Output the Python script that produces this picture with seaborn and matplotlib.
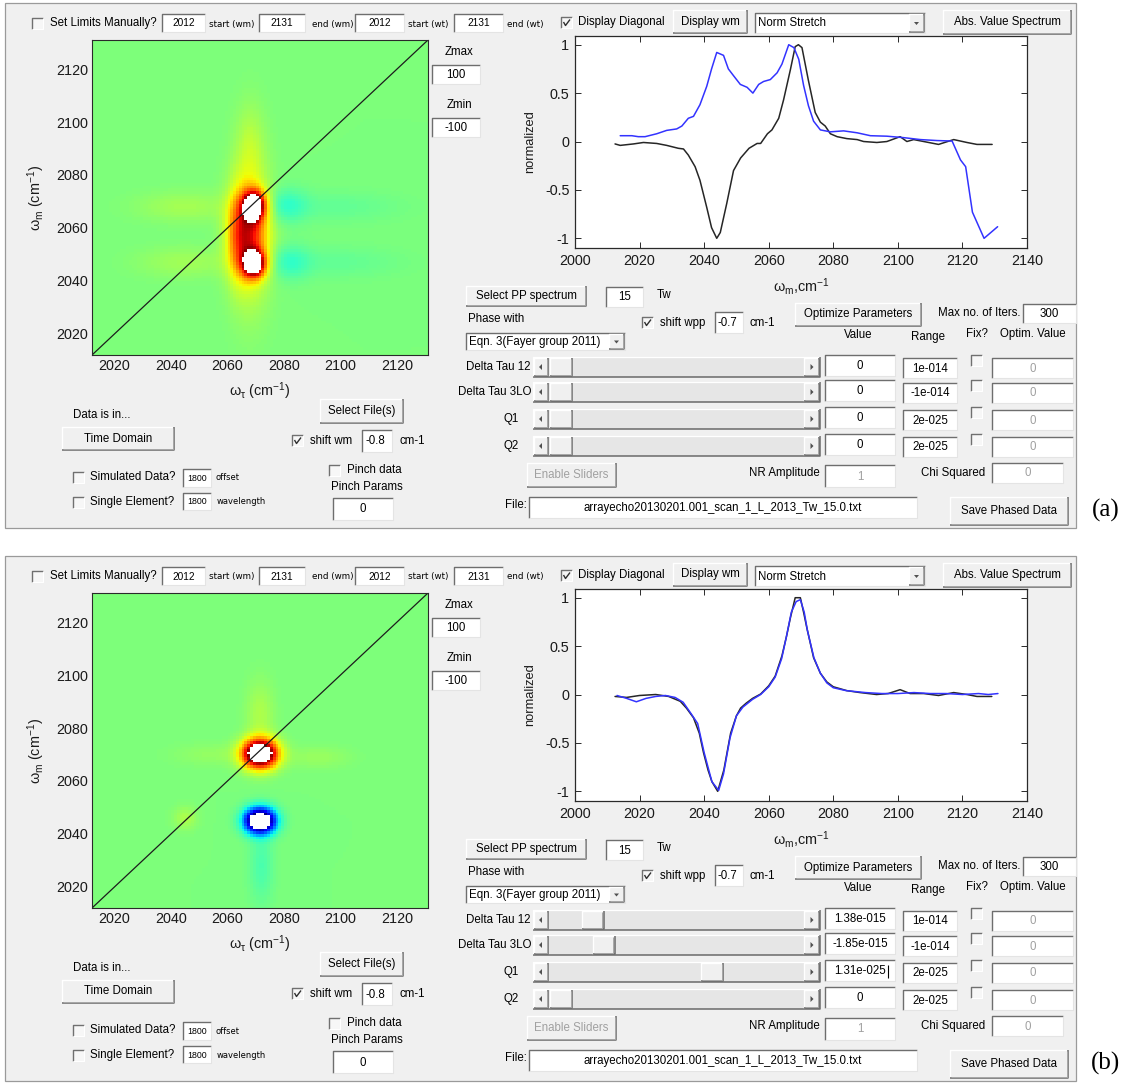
import numpy as np
import pandas as pd
import matplotlib
matplotlib.use("Agg")
import matplotlib.pyplot as plt
import seaborn as sns
from matplotlib.patches import Rectangle, Polygon
from matplotlib.lines import Line2D

# ---------------- spectra: frequency (cm-1) and normalized signal ----------------
PROJ_A_X = [2012.4, 2014, 2018.1, 2021.2, 2025.3, 2028.4, 2032, 2033.6, 2035.1, 2037.2,
            2038.7, 2040.8, 2042.3, 2043.9, 2045, 2047, 2049.1, 2051.3, 2053.9, 2056.4,
            2057.5, 2059.6, 2061, 2063.1, 2064.6, 2066.7, 2068.2, 2069.2, 2070.3, 2072.3,
            2074.4, 2076, 2077.5, 2079.1, 2081.2, 2084.2, 2087.4, 2089.4, 2093.5, 2096.6,
            2100.7, 2102.8, 2104.9, 2108, 2112.6, 2117.3, 2121.4, 2124.5, 2129.2]
PROJ_A_Y = [-0.025, -0.04, -0.025, -0.01, -0.02, -0.04, -0.07, -0.077, -0.14, -0.26,
            -0.40, -0.68, -0.89, -1.0, -0.94, -0.64, -0.30, -0.17, -0.07, -0.02,
            -0.02, 0.08, 0.12, 0.24, 0.43, 0.74, 0.98, 1.0, 0.97, 0.63,
            0.30, 0.20, 0.16, 0.08, 0.05, 0.03, 0.02, 0.0, -0.01, 0.0,
            0.05, 0.0, 0.02, 0.0, -0.03, 0.02, -0.01, -0.03, -0.03]
PP_A_X = [2014, 2017.6, 2019.6, 2021.7, 2025.3, 2028.4, 2031.5, 2033.1, 2035.1, 2036.7,
          2038.7, 2040.8, 2042.3, 2043.9, 2046, 2047.5, 2049.1, 2051.2, 2053.3, 2055.1,
          2056.9, 2058.4, 2060.5, 2062.6, 2064.1, 2066.2, 2067.8, 2069.3, 2070.8, 2072.3,
          2073.9, 2076, 2079.1, 2083.2, 2087.4, 2091.5, 2096.6, 2101.8, 2107, 2112.1,
          2116.8, 2119.4, 2121, 2123.1, 2126.7, 2130.9]
PP_A_Y = [0.06, 0.06, 0.05, 0.05, 0.08, 0.115, 0.13, 0.16, 0.24, 0.26,
          0.38, 0.57, 0.75, 0.92, 0.89, 0.75, 0.68, 0.59, 0.56, 0.50,
          0.59, 0.62, 0.64, 0.71, 0.80, 1.0, 0.97, 0.85, 0.58, 0.37,
          0.21, 0.12, 0.10, 0.11, 0.09, 0.06, 0.055, 0.04, 0.02, 0.01,
          0.005, -0.19, -0.26, -0.73, -1.0, -0.88]

PROJ_B_X = [2012.4, 2016, 2020, 2025, 2029, 2032.6, 2034.5, 2036.7, 2038.5, 2039.8,
            2041.2, 2042.4, 2044.2, 2046.1, 2048.2, 2050, 2051.3, 2053, 2055, 2057.5,
            2060, 2062, 2064.1, 2065.5, 2066.7, 2068.2, 2069.8, 2070.8, 2071.8, 2073.9,
            2076, 2078, 2080, 2084.2, 2088.3, 2093.4, 2097, 2100.7, 2103.8, 2108,
            2112.6, 2117.3, 2121.4, 2124.5, 2129.1]
PROJ_B_Y = [-0.02, -0.03, -0.01, 0.0, -0.02, -0.07, -0.14, -0.24, -0.4, -0.6,
            -0.78, -0.9, -1.0, -0.78, -0.4, -0.22, -0.14, -0.09, -0.04, 0.005,
            0.09, 0.19, 0.40, 0.6, 0.79, 1.0, 1.0, 0.85, 0.69, 0.38,
            0.22, 0.13, 0.08, 0.04, 0.02, 0.0, 0.01, 0.05, 0.01, 0.01,
            -0.01, 0.02, 0.0, -0.02, -0.02]
PP_B_X = [2013, 2016, 2019, 2022, 2025, 2028, 2031, 2033.5, 2036, 2038,
          2040, 2042.4, 2044.5, 2046, 2048, 2050, 2052, 2055, 2057.5, 2060,
          2062, 2064, 2065.5, 2067, 2068.5, 2069.8, 2071, 2072, 2074, 2076,
          2078, 2080, 2084, 2090, 2095, 2100, 2105, 2110, 2115, 2120,
          2125, 2128, 2131]
PP_B_Y = [-0.01, -0.04, -0.075, -0.04, -0.02, -0.01, -0.03, -0.08, -0.2, -0.3,
          -0.6, -0.9, -0.99, -0.82, -0.45, -0.22, -0.13, -0.05, 0.0, 0.08,
          0.18, 0.37, 0.6, 0.85, 0.96, 0.98, 0.85, 0.66, 0.38, 0.22,
          0.12, 0.07, 0.04, 0.02, 0.01, 0.01, 0.02, 0.01, 0.01, 0.0,
          0.01, 0.0, 0.01]

# ---------------- 2D spectra: peak features (w_tau, w_m, amplitude, widths) ----------------
FEAT_A_TAU = [2069.5, 2069.5, 2068.0, 2068.0, 2068.0, 2063.5, 2081.0, 2082.0, 2100.0, 2100.0, 2045.0, 2045.0]
FEAT_A_M   = [2068.5, 2046.5, 2057.0, 2058.0, 2090.0, 2058.0, 2068.5, 2047.0, 2068.0, 2047.0, 2068.0, 2047.0]
FEAT_A_AMP = [112, 108, 50, 25, 12, 28, -17, -16, -6, -6, 10, 9]
FEAT_A_STAU = [2.8, 2.8, 4.5, 5.0, 3.5, 3.0, 5.0, 5.0, 15, 15, 12, 12]
FEAT_A_SM   = [3.8, 3.4, 10, 20, 12, 12, 4.5, 4.5, 4.0, 4.0, 4.0, 4.0]

FEAT_B_TAU = [2071.5, 2071.5, 2071.5, 2072.0, 2045.0, 2055.0, 2092.0]
FEAT_B_M   = [2070.3, 2045.0, 2085.0, 2028.0, 2046.0, 2070.0, 2069.0]
FEAT_B_AMP = [150, -150, 12, -12, 12, 6, 7]
FEAT_B_STAU = [4.3, 3.8, 3.5, 3.0, 3.0, 10, 8]
FEAT_B_SM   = [3.8, 3.3, 9.0, 10, 3.0, 3.0, 3.0]

AXIS_START, AXIS_END = 2012, 2131
MAP_TICKS = [2020, 2040, 2060, 2080, 2100, 2120]
SPEC_XTICKS = [2000, 2020, 2040, 2060, 2080, 2100, 2120, 2140]
SPEC_YTICKS = [-1, -0.5, 0, 0.5, 1]
Z_MAX, Z_MIN = 100, -100

# ---------------- fit controls ----------------
PARAM_NAMES = ["Delta Tau 12", "Delta Tau 3LO", "Q1", "Q2"]
PARAM_RANGES = ["1e-014", "-1e-014", "2e-025", "2e-025"]
VALUES_A = ["0", "0", "0", "0"]
VALUES_B = ["1.38e-015", "-1.85e-015", "1.31e-025", "0"]
FILE_NAME = "arrayecho20130201.001_scan_1_L_2013_Tw_15.0.txt"

W, H = 1132, 1083
DY = 553
BG = "#f0f0f0"
GUI_FONT = 8.3

sns.set_theme(style="white")
plt.rcParams["font.family"] = ["Liberation Sans", "DejaVu Sans"]
plt.rcParams["mathtext.default"] = "regular"

fig = plt.figure(figsize=(W / 100, H / 100), dpi=100, facecolor="white")
gui = fig.add_axes([0, 0, 1, 1])
gui.set_xlim(0, W)
gui.set_ylim(H, 0)
gui.axis("off")
gui.set_zorder(0)


def rect_of(x0, y0, x1, y1):
    return [x0 / W, 1 - y1 / H, (x1 - x0) / W, (y1 - y0) / H]


def seg(xs, ys, c, lw=0.9, z=3):
    gui.add_line(Line2D(xs, ys, color=c, lw=lw, zorder=z, solid_capstyle="butt"))


def txt(x, y, s, fs=GUI_FONT, ha="left", color="black", family=None, **kw):
    if family is None:
        family = ["Liberation Sans", "DejaVu Sans"]
    gui.text(x, y, s, fontsize=fs, ha=ha, va="center", color=color, family=family, zorder=5, **kw)


def edit(x0, y0, x1, y1, s="", fs=GUI_FONT, color="black", ha="center"):
    gui.add_patch(Rectangle((x0, y0), x1 - x0, y1 - y0, facecolor="white", edgecolor="none", zorder=2))
    seg([x0, x0, x1], [y1, y0, y0], "#6e6e6e", 1.0)
    seg([x1, x1, x0], [y0, y1, y1], "#e4e4e4", 0.8)
    if s:
        xt = (x0 + x1) / 2 if ha == "center" else x0 + 3
        txt(xt, (y0 + y1) / 2 + 0.5, s, fs=fs, ha=ha, color=color)


def button(x0, y0, x1, y1, s="", fs=GUI_FONT, color="black"):
    gui.add_patch(Rectangle((x0, y0), x1 - x0, y1 - y0, facecolor=BG, edgecolor="none", zorder=2))
    seg([x0, x0, x1], [y1, y0, y0], "#ffffff", 1.0)
    seg([x1, x1, x0], [y0, y1, y1], "#6a6a6a", 1.1)
    seg([x1 - 1.5, x1 - 1.5, x0 + 1], [y0 + 1, y1 - 1.5, y1 - 1.5], "#a8a8a8", 0.7)
    if s:
        txt((x0 + x1) / 2, (y0 + y1) / 2, s, fs=fs, ha="center", color=color)


def checkbox(x0, y0, checked=False, size=11):
    x1, y1 = x0 + size, y0 + size
    gui.add_patch(Rectangle((x0, y0), size, size, facecolor="#f7f7f7", edgecolor="none", zorder=2))
    seg([x0, x0, x1], [y1, y0, y0], "#707070", 1.0)
    seg([x1, x1, x0], [y0, y1, y1], "#ffffff", 0.8)
    if checked:
        seg([x0 + 2.5, x0 + 4.5, x0 + 9], [y0 + 5, y0 + 8.5, y0 + 2.5], "#303030", 1.0, z=4)


def popup(x0, y0, x1, y1, s):
    edit(x0, y0, x1, y1)
    button(x1 - 16, y0 + 1, x1 - 1, y1 - 1)
    cx, cy = x1 - 8.5, (y0 + y1) / 2
    gui.add_patch(Polygon([[cx - 2.5, cy - 1], [cx + 2.5, cy - 1], [cx, cy + 2]],
                          closed=True, facecolor="#505050", edgecolor="none", zorder=4))
    txt(x0 + 3, (y0 + y1) / 2 + 0.5, s)


def slider(x0, y0, x1, y1, frac):
    gui.add_patch(Rectangle((x0, y0), x1 - x0, y1 - y0, facecolor="#e6e6e6", edgecolor="none", zorder=2))
    seg([x0, x0, x1], [y1, y0, y0], "#ffffff", 0.9)
    seg([x1, x1, x0], [y0, y1, y1], "#6a6a6a", 1.1)
    button(x0 + 1, y0 + 1, x0 + 15, y1 - 1)
    button(x1 - 16, y0 + 1, x1 - 1, y1 - 1)
    cy = (y0 + y1) / 2
    gui.add_patch(Polygon([[x0 + 6, cy], [x0 + 9, cy - 3], [x0 + 9, cy + 3]], closed=True,
                          facecolor="#505050", edgecolor="none", zorder=4))
    gui.add_patch(Polygon([[x1 - 6.5, cy], [x1 - 9.5, cy - 3], [x1 - 9.5, cy + 3]], closed=True,
                          facecolor="#505050", edgecolor="none", zorder=4))
    t0 = x0 + 17
    t_end = x1 - 17
    tw = 22
    tx = t0 + frac * (t_end - tw - t0)
    button(tx, y0 + 1, tx + tw, y1 - 1)


def build_map(tau_c, m_c, amp, s_tau, s_m):
    centers = np.arange(AXIS_START + 0.5, AXIS_END, 1.0)
    T, M = np.meshgrid(centers, centers)
    Z = np.zeros_like(T)
    for t, m, a, st, sm in zip(tau_c, m_c, amp, s_tau, s_m):
        Z += a * np.exp(-0.5 * ((T - t) / st) ** 2 - 0.5 * ((M - m) / sm) ** 2)
    return Z


cmap = matplotlib.colormaps["jet"].copy()
cmap.set_over("white")
cmap.set_under("white")
TICK_FS = 10.4


def draw_panel(dy, feats, proj_x, proj_y, pp_x, pp_y, values, label):
    # window frame
    gui.add_patch(Rectangle((5, 3 + dy), 1071, 525, facecolor=BG, edgecolor="#9a9a9a", lw=0.9, zorder=1))

    # --- 2D map ---
    ax = fig.add_axes(rect_of(92, 40 + dy, 428, 355 + dy))
    ax.set_zorder(2)
    Z = build_map(*feats)
    sns.heatmap(Z, ax=ax, cmap=cmap, vmin=Z_MIN, vmax=Z_MAX, cbar=False,
                xticklabels=False, yticklabels=False)
    ax.invert_yaxis()
    n = Z.shape[0]
    ax.plot([0, n], [0, n], color="#1c1c1c", lw=0.9)
    pos = [t - AXIS_START for t in MAP_TICKS]
    ax.set_xticks(pos)
    ax.set_xticklabels([str(t) for t in MAP_TICKS])
    ax.set_yticks(pos)
    ax.set_yticklabels([str(t) for t in MAP_TICKS])
    for s in ax.spines.values():
        s.set_visible(True)
        s.set_color("#2a2a2a")
        s.set_linewidth(0.8)
    ax.tick_params(direction="in", length=3.5, width=0.6, colors="#1a1a1a", labelsize=TICK_FS,
                   bottom=True, left=True, top=True, right=True, pad=3,
                   labelcolor="#1a1a1a")
    ax.set_xlabel(r"$\omega_\tau$ (cm$^{-1}$)", fontsize=TICK_FS, color="#1a1a1a", labelpad=5)
    ax.set_ylabel(r"$\omega_m$ (cm$^{-1}$)", fontsize=TICK_FS, color="#1a1a1a", labelpad=6)

    # --- spectra ---
    ax2 = fig.add_axes(rect_of(575, 36 + dy, 1027, 248 + dy))
    ax2.set_zorder(2)
    ax2.set_facecolor("white")
    dproj = pd.DataFrame({"w": proj_x, "s": proj_y})
    dpp = pd.DataFrame({"w": pp_x, "s": pp_y})
    sns.lineplot(data=dproj, x="w", y="s", ax=ax2, color="#262626", lw=1.1)
    sns.lineplot(data=dpp, x="w", y="s", ax=ax2, color="#3333ff", lw=1.1)
    ax2.set_xlim(SPEC_XTICKS[0], SPEC_XTICKS[-1])
    ax2.set_ylim(-1.1, 1.09)
    ax2.set_xticks(SPEC_XTICKS)
    ax2.set_xticklabels([str(t) for t in SPEC_XTICKS])
    ax2.set_yticks(SPEC_YTICKS)
    ax2.set_yticklabels(["%g" % t for t in SPEC_YTICKS])
    for s in ax2.spines.values():
        s.set_visible(True)
        s.set_color("#2a2a2a")
        s.set_linewidth(0.9)
    ax2.tick_params(direction="in", length=4, width=0.7, colors="#2a2a2a", labelsize=TICK_FS,
                    bottom=True, left=True, top=True, right=True, pad=4, labelcolor="#1a1a1a")
    ax2.set_xlabel(r"$\omega_m$,cm$^{-1}$", fontsize=TICK_FS, color="#1a1a1a", labelpad=6)
    ax2.set_ylabel("normalized", fontsize=GUI_FONT + 1, color="#1a1a1a", labelpad=6)

    # --- top row ---
    small = ["DejaVu Sans"]
    checkbox(32, 18 + dy)
    txt(50, 23 + dy, "Set Limits Manually?")
    edit(162, 14 + dy, 205, 32 + dy, "2012", fs=7.3)
    txt(209, 24 + dy, "start (wm)", fs=6.3, family=small)
    edit(259, 14 + dy, 305, 32 + dy, "2131", fs=7.3)
    txt(312, 24 + dy, "end (wm)", fs=6.3, family=small)
    edit(355, 14 + dy, 404, 32 + dy, "2012", fs=7.3)
    txt(408, 24 + dy, "start (wt)", fs=6.3, family=small)
    edit(454, 14 + dy, 503, 32 + dy, "2131", fs=7.3)
    txt(507, 24 + dy, "end (wt)", fs=6.3, family=small)
    checkbox(561, 17 + dy, checked=True)
    txt(578, 22 + dy, "Display Diagonal")
    button(673, 10 + dy, 747, 33 + dy, "Display wm")
    popup(755, 13 + dy, 925, 33 + dy, "Norm Stretch")
    button(943, 10 + dy, 1071, 34 + dy, "Abs. Value Spectrum")

    txt(459, 52 + dy, "Zmax", ha="center")
    edit(432, 65 + dy, 480, 84 + dy, str(Z_MAX))
    txt(459, 105 + dy, "Zmin", ha="center")
    edit(432, 118 + dy, 480, 137 + dy, str(Z_MIN))

    # --- lower left ---
    txt(73, 415 + dy, "Data is in...")
    button(62, 427 + dy, 174, 450 + dy, "Time Domain")
    button(320, 399 + dy, 403, 423 + dy, "Select File(s)")
    checkbox(292, 435 + dy, checked=True)
    txt(310, 441 + dy, "shift wm")
    edit(362, 430 + dy, 392, 452 + dy, "-0.8", ha="left")
    txt(400, 441 + dy, "cm-1")
    checkbox(73, 472 + dy)
    txt(90, 477 + dy, "Simulated Data?")
    edit(183, 469 + dy, 211, 487 + dy, "1800", fs=6.3)
    txt(215, 478 + dy, "offset", fs=6.0, family=small)
    checkbox(73, 497 + dy)
    txt(90, 502 + dy, "Single Element?")
    edit(183, 493 + dy, 211, 510 + dy, "1800", fs=6.3)
    txt(217, 502 + dy, "wavelength", fs=6.0, family=small)
    checkbox(329, 465 + dy)
    txt(347, 470 + dy, "Pinch data")
    txt(367, 487 + dy, "Pinch Params", ha="center")
    edit(333, 498 + dy, 393, 520 + dy, "0")

    # --- fit controls ---
    button(466, 286 + dy, 586, 306 + dy, "Select PP spectrum")
    edit(606, 287 + dy, 643, 307 + dy, "15")
    txt(657, 295 + dy, "Tw")
    txt(468, 319 + dy, "Phase with")
    checkbox(642, 317 + dy, checked=True)
    txt(660, 323 + dy, "shift wpp")
    edit(715, 312 + dy, 743, 333 + dy, "-0.7", ha="left")
    txt(750, 323 + dy, "cm-1")
    button(795, 303 + dy, 921, 326 + dy, "Optimize Parameters")
    txt(1020, 313 + dy, "Max no. of Iters.", ha="right")
    edit(1023, 304 + dy, 1076, 323 + dy, "300")
    popup(466, 333 + dy, 625, 350 + dy, "Eqn. 3(Fayer group 2011)")
    txt(858, 335 + dy, "Value", ha="center")
    txt(928, 337 + dy, "Range", ha="center")
    txt(977, 334 + dy, "Fix?", ha="center")
    txt(1033, 334 + dy, "Optim. Value", ha="center")

    rows = [367, 392, 419, 446]
    for name, rng, val, cy in zip(PARAM_NAMES, PARAM_RANGES, values, rows):
        cy = cy + dy
        if name.startswith("Q"):
            txt(511, cy, name, ha="center")
        else:
            txt(531, cy, name, ha="right")
        slider(533, cy - 10, 820, cy + 10, float(val) / float(rng))
        edit(825, cy - 12, 895, cy + 9, val)
        edit(903, cy - 9, 957, cy + 11, rng)
        checkbox(971, cy - 12)
        edit(992, cy - 9, 1073, cy + 11, "0", color="#a0a0a0")

    button(527, 463 + dy, 616, 487 + dy, "Enable Sliders", color="#a0a0a0")
    txt(820, 473 + dy, "NR Amplitude", ha="right")
    edit(825, 465 + dy, 895, 487 + dy, "1", color="#a0a0a0")
    txt(985, 473 + dy, "Chi Squared", ha="right")
    edit(992, 463 + dy, 1063, 483 + dy, "0", color="#a0a0a0")
    txt(505, 505 + dy, "File:")
    edit(529, 497 + dy, 917, 518 + dy, FILE_NAME)
    button(950, 497 + dy, 1068, 525 + dy, "Save Phased Data")

    txt(1106, 510 + dy, label, fs=18, ha="center",
        family=["Liberation Serif", "DejaVu Serif"])


draw_panel(0, (FEAT_A_TAU, FEAT_A_M, FEAT_A_AMP, FEAT_A_STAU, FEAT_A_SM),
           PROJ_A_X, PROJ_A_Y, PP_A_X, PP_A_Y, VALUES_A, "(a)")
draw_panel(DY, (FEAT_B_TAU, FEAT_B_M, FEAT_B_AMP, FEAT_B_STAU, FEAT_B_SM),
           PROJ_B_X, PROJ_B_Y, PP_B_X, PP_B_Y, VALUES_B, "(b)")

# text caret in the edited Q1 value box
seg([888, 888], [419 + DY - 7, 419 + DY + 6], "black", 0.8)

fig.savefig("out.png", dpi=100, facecolor="white")
